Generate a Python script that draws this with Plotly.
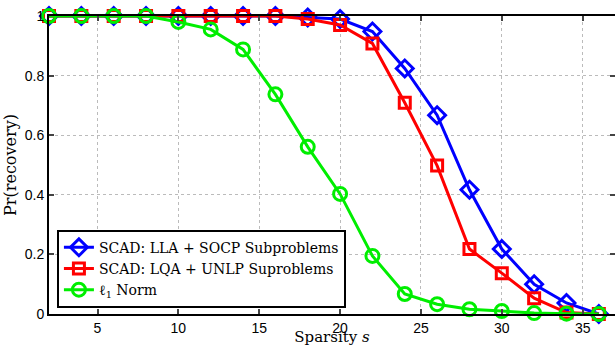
import plotly.graph_objects as go

sparsity = [2, 4, 6, 8, 10, 12, 14, 16, 18, 20, 22, 24, 26, 28, 30, 32, 34, 36]
lla_socp = [1, 1, 1, 1, 1, 1, 1, 1, 0.995, 0.99, 0.948, 0.824, 0.667, 0.417, 0.218, 0.10, 0.037, 0.0]
lqa_unlp = [1, 1, 1, 1, 1, 1, 1, 1, 0.99, 0.97, 0.908, 0.709, 0.498, 0.218, 0.137, 0.053, 0.005, 0.0]
l1_norm = [1, 1, 1, 1, 0.98, 0.955, 0.888, 0.737, 0.561, 0.403, 0.195, 0.067, 0.033, 0.016, 0.01, 0.003, 0.001, 0.0]

names = ["SCAD: LLA + SOCP Subproblems", "SCAD: LQA + UNLP Suproblems", "ℓ<sub>1</sub> Norm"]
x_ticks = [5, 10, 15, 20, 25, 30, 35]
y_ticks = [0, 0.2, 0.4, 0.6, 0.8, 1]
y_ticklabels = ["0", "0.2", "0.4", "0.6", "0.8", "1"]

fig = go.Figure()
styles = [
    (lla_socp, "#0000ff", "diamond-open", 13),
    (lqa_unlp, "#ff0000", "square-open", 11),
    (l1_norm, "#00ee00", "circle-open", 13),
]
for (vals, color, sym, size), name in zip(styles, names):
    fig.add_trace(go.Scatter(
        x=sparsity, y=vals, name=name, mode="lines+markers",
        line=dict(color=color, width=3),
        marker=dict(symbol=sym, size=size, color=color, line=dict(width=3, color=color)),
        cliponaxis=False,
    ))

fig.update_layout(
    width=615, height=346,
    margin=dict(l=49, r=0, t=16, b=32, autoexpand=False),
    paper_bgcolor="white", plot_bgcolor="white",
    font=dict(family="Liberation Sans, Arial", size=14, color="black"),
    showlegend=True,
    legend=dict(
        x=0.014, y=0.283, xanchor="left", yanchor="top",
        bgcolor="white", bordercolor="black", borderwidth=2,
        font=dict(family="DejaVu Serif", size=14, color="black"),
        itemwidth=30, tracegroupgap=0,
    ),
    xaxis=dict(
        range=[2, 37], tickvals=x_ticks, ticks="inside", ticklen=5, tickwidth=1.5,
        showline=True, linewidth=2, linecolor="black", mirror="ticks",
        showgrid=True, gridcolor="#bbbbbb", griddash="dot", gridwidth=1,
        zeroline=False, automargin=False,
        title=dict(text="Sparsity <i>s</i>", font=dict(family="DejaVu Serif", size=15), standoff=2),
        tickfont=dict(size=14),
    ),
    yaxis=dict(
        range=[0, 1], tickvals=y_ticks, ticktext=y_ticklabels, ticks="inside", ticklen=5, tickwidth=1.5,
        showline=True, linewidth=2, linecolor="black", mirror="ticks",
        showgrid=True, gridcolor="#bbbbbb", griddash="dot", gridwidth=1,
        zeroline=False, automargin=False,
        title=dict(text="Pr(recovery)", font=dict(family="DejaVu Serif", size=16), standoff=4),
        tickfont=dict(size=14),
    ),
)

fig.write_html(
    "out.html",
    config={"displayModeBar": False},
    post_script="document.body.style.margin='0';document.body.style.padding='0';document.body.style.overflow='hidden';",
)
